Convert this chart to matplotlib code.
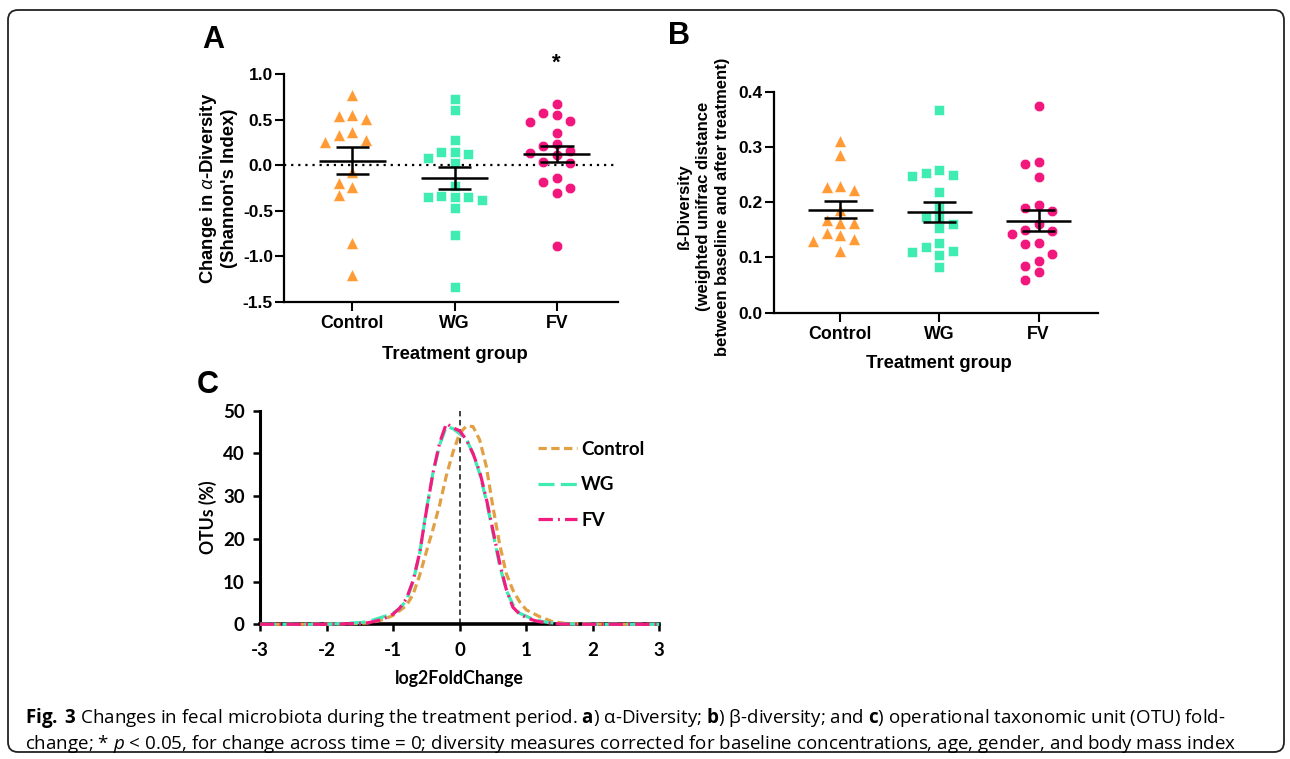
import numpy as np
import matplotlib
matplotlib.use('Agg')
import matplotlib.pyplot as plt
from matplotlib.patches import FancyBboxPatch

plt.rcParams['axes.unicode_minus'] = False
plt.rcParams['mathtext.fontset'] = 'custom'
plt.rcParams['mathtext.rm'] = 'Open Sans'
plt.rcParams['mathtext.it'] = 'Open Sans:italic'
plt.rcParams['mathtext.bf'] = 'Open Sans:bold'

# ---- data ----
groups = ['Control', 'WG', 'FV']

# A: change in alpha diversity (Shannon)
alpha_control = [0.77, 0.55, 0.54, 0.51, 0.36, 0.33, 0.28, 0.25, -0.08, -0.19,
                 -0.24, -0.33, -0.85, -1.20]
alpha_wg = [0.73, 0.61, 0.28, 0.14, 0.125, 0.14, 0.074, 0.02, -0.23, -0.35,
            -0.35, -0.38, -0.35, -0.34, -0.47, -0.77, -1.34]
alpha_fv = [0.67, 0.57, 0.545, 0.48, 0.47, 0.35, 0.21, 0.23, 0.136, 0.114,
            0.158, 0.03, 0.02, -0.136, -0.25, -0.18, -0.30, -0.89]

# B: beta diversity (weighted unifrac)
beta_control = [0.31, 0.285, 0.228, 0.222, 0.23, 0.185, 0.162, 0.167, 0.162,
                0.145, 0.141, 0.133, 0.13, 0.112]
beta_wg = [0.367, 0.258, 0.25, 0.248, 0.252, 0.218, 0.193, 0.173, 0.174, 0.16,
           0.153, 0.127, 0.112, 0.104, 0.11, 0.119, 0.083]
beta_fv = [0.374, 0.27, 0.273, 0.245, 0.195, 0.19, 0.184, 0.16, 0.143, 0.15,
           0.147, 0.124, 0.126, 0.107, 0.094, 0.085, 0.073, 0.059]

# C: OTU fold change distribution
fold_x = [-3.0, -2.5, -2.0, -1.5, -1.4, -1.3, -1.2, -1.1, -1.0, -0.9, -0.8, -0.7,
          -0.6, -0.5, -0.4, -0.3, -0.2, -0.1, 0.0, 0.1, 0.2, 0.3, 0.4, 0.5, 0.6,
          0.7, 0.8, 0.9, 1.0, 1.1, 1.2, 1.3, 1.4, 1.5, 1.6, 2.0, 2.5, 3.0]
otu_control = [0, 0, 0.05, 0.2, 0.3, 0.5, 0.9, 1.4, 2.1, 3.2, 4.4, 7.0,
               11.5, 17.0, 22.3, 28.0, 34.8, 40.3, 44.7, 46.4, 46.3, 43.2, 37.0, 27.5, 18.8,
               11.9, 8.0, 5.3, 3.4, 2.6, 1.8, 1.2, 0.6, 0.4, 0.2, 0.05, 0, 0]
otu_wg = [0, 0, 0, 0.4, 0.6, 1.0, 1.5, 2.0, 2.6, 3.7, 5.6, 10.0,
          16.6, 26.8, 35.5, 42.0, 46.3, 45.8, 44.6, 43.4, 40.0, 35.3, 29.0, 21.5, 13.9,
          8.0, 4.6, 2.6, 1.9, 1.2, 0.8, 0.5, 0.3, 0.15, 0.1, 0, 0, 0]
otu_fv = [0, 0, 0, 0.2, 0.3, 0.6, 1.0, 1.6, 2.4, 3.8, 6.0, 10.2,
          16.8, 26.5, 35.5, 42.5, 47.0, 46.0, 45.3, 43.2, 40.0, 35.8, 29.5, 22.0, 14.5,
          8.2, 4.0, 2.4, 1.6, 1.0, 0.6, 0.4, 0.2, 0.1, 0.05, 0, 0, 0]

caption1 = (r'$\mathbf{Fig.\;3}$ Changes in fecal microbiota during the treatment period. '
            r'$\mathbf{a}$) α-Diversity; $\mathbf{b}$) β-diversity; and $\mathbf{c}$) '
            r'operational taxonomic unit (OTU) fold-')
caption2 = (r'change; * $p$ < 0.05, for change across time = 0; diversity measures corrected '
            r'for baseline concentrations, age, gender, and body mass index')

dot_colors = ['#FF9A35', '#3FEDB3', '#F2177C']
line_colors = ['#E2A044', '#3EEBB2', '#F21C80']
markers = ['^', 's', 'o']
msizes = [8.3, 7.0, 7.6]

W, H = 1290, 759
fig = plt.figure(figsize=(W / 100, H / 100), dpi=100)


def px_axes(x0, y0, x1, y1):
    # pixel box (top-left origin) -> figure fractions
    return fig.add_axes([x0 / W, 1 - y1 / H, (x1 - x0) / W, (y1 - y0) / H])


def swarm(ax, xc, vals, dx=13.5, dy=10.5):
    pts = ax.transData.transform([(xc, v) for v in vals])
    ppu = ax.transData.transform((xc + 1, 0))[0] - ax.transData.transform((xc, 0))[0]
    order = np.argsort(-np.asarray(vals), kind='stable')
    placed = []
    offs = np.zeros(len(vals))
    for i in order:
        y = pts[i, 1]
        for k in range(60):
            off = ((k + 1) // 2) * (dx / 2) * (-1 if k % 2 == 1 else 1)
            ok = all(abs(off - po) >= dx or abs(y - py) >= dy for po, py in placed)
            if ok:
                break
        placed.append((off, y))
        offs[i] = off
    return xc + offs / ppu


def column_plot(ax, data, ylim, yticks):
    ax.set_xlim(-0.67, 2.6)
    ax.set_ylim(*ylim)
    for i, vals in enumerate(data):
        xs = swarm(ax, i, vals)
        ax.plot(xs, vals, ls='none', marker=markers[i], ms=msizes[i],
                color=dot_colors[i], mec='white', mew=0.4, zorder=3, clip_on=False)
        m = np.mean(vals)
        se = np.std(vals, ddof=1) / np.sqrt(len(vals))
        ax.hlines(m, i - 0.33, i + 0.33, color='k', lw=1.8, zorder=4)
        ax.hlines([m - se, m + se], i - 0.165, i + 0.165, color='k', lw=1.8, zorder=4)
        ax.vlines(i, m - se, m + se, color='k', lw=1.8, zorder=4)
    for s in ['top', 'right']:
        ax.spines[s].set_visible(False)
    for s in ['left', 'bottom']:
        ax.spines[s].set_linewidth(1.6)
    ax.set_xticks(range(3))
    ax.set_xticklabels(groups, fontsize=12.8, fontweight='bold', family='Liberation Sans')
    ax.set_yticks(yticks)
    ax.set_yticklabels(['%.1f' % t for t in yticks], fontsize=12.5, fontweight='bold',
                       family='Liberation Sans')
    ax.tick_params(axis='both', direction='out', length=6.5, width=1.5)
    ax.tick_params(axis='y', pad=1.5)
    ax.tick_params(axis='x', pad=3)
    ax.set_xlabel('Treatment group', fontsize=13.3, fontweight='bold',
                  family='Liberation Sans', va='center')


# ---- panel A ----
axA = px_axes(284, 74, 618, 302)
axA.axhline(0, color='k', ls=(0, (1, 2.2)), lw=1.6, zorder=1)
column_plot(axA, [alpha_control, alpha_wg, alpha_fv], (-1.5, 1.0),
            [-1.5, -1.0, -0.5, 0.0, 0.5, 1.0])
axA.set_ylabel('Change in $\\alpha$-Diversity\n(Shannon\'s Index)', fontsize=13.3,
               fontweight='bold', family='Liberation Sans', va='center', linespacing=1.15)
axA.yaxis.set_label_coords((218 - 284) / 334, 0.5)
axA.xaxis.set_label_coords((455 - 284) / 334, (302 - 354) / 228)
axA.text(2, 1.0, '*', transform=axA.transData, ha='center', va='bottom',
         fontsize=16, fontweight='bold', family='Liberation Sans')

# ---- panel B ----
axB = px_axes(774, 91.7, 1098, 312.7)
column_plot(axB, [beta_control, beta_wg, beta_fv], (0.0, 0.4),
            [0.0, 0.1, 0.2, 0.3, 0.4])
axB.set_ylabel('ß-Diversity\n(weighted unifrac distance\nbetween baseline and after treatment)',
               fontsize=12, fontweight='bold', family='Liberation Sans', va='center',
               linespacing=1.35)
axB.yaxis.set_label_coords((703.3 - 774) / 324, 0.48)
axB.xaxis.set_label_coords((939.3 - 774) / 324, (312.7 - 363.3) / 221)

# ---- panel C ----
axC = px_axes(260, 410.7, 659.3, 624.3)
styles = [(0, (2.6, 1.4)), (0, (5.0, 2.0)), (0, (4.5, 1.6, 0.6, 1.6))]
series = [otu_control, otu_wg, otu_fv]
for i, ys in enumerate(series):
    axC.plot(fold_x, ys, color=line_colors[i], ls=styles[i], lw=2.3,
             label=groups[i], zorder=3 + i, clip_on=False)
axC.axvline(0, color='#333333', ls=(0, (3, 2)), lw=1.3, zorder=2)
axC.set_xlim(-3, 3)
axC.set_ylim(0, 50)
for s in ['top', 'right']:
    axC.spines[s].set_visible(False)
axC.spines['left'].set_linewidth(2.2)
axC.spines['bottom'].set_linewidth(2.6)
axC.set_xticks(range(-3, 4))
axC.set_yticks(range(0, 51, 10))
axC.tick_params(axis='both', direction='out', length=5, width=1.8, labelsize=13.5)
axC.tick_params(axis='x', pad=8)
axC.tick_params(axis='y', pad=6)
for lab in axC.get_xticklabels() + axC.get_yticklabels():
    lab.set_family('Lato')
    lab.set_fontweight('bold')
axC.set_xlabel('log2FoldChange', fontsize=12.8, fontweight='bold', family='Lato', va='center')
axC.set_ylabel('OTUs (%)', fontsize=12.7, fontweight='bold', family='Lato', va='center')
axC.xaxis.set_label_coords(0.5, (624.3 - 678.3) / 213.6)
axC.yaxis.set_label_coords((208 - 260) / 399.3, 0.5)
leg = axC.legend(loc='upper left', bbox_to_anchor=(538 / W, 1 - 440.5 / H),
                 bbox_transform=fig.transFigure, frameon=False, handlelength=2.1,
                 handletextpad=0.2, labelspacing=1.0, borderpad=0, borderaxespad=0,
                 prop={'family': 'Lato', 'weight': 'bold', 'size': 13.5})

# panel letters
for letter, x, y in [('A', 213, 40), ('B', 679, 36), ('C', 208, 385)]:
    fig.text(x / W, 1 - y / H, letter, ha='center', va='center', fontsize=22,
             fontweight='bold', family='Liberation Sans')

# caption
fig.text(25 / W, 1 - 718 / H, caption1, ha='left', va='center', fontsize=13.5,
         family='Open Sans')
fig.text(25 / W, 1 - 744 / H, caption2, ha='left', va='center', fontsize=13.5,
         family='Open Sans')

# rounded frame around the whole figure
frame = FancyBboxPatch((8, H - 752), 1276, 742, boxstyle='round,pad=0,rounding_size=10',
                       transform=None, fill=False, ec='#222222', lw=1.3)
fig.patches.append(frame)

fig.savefig('out.png', dpi=100)
